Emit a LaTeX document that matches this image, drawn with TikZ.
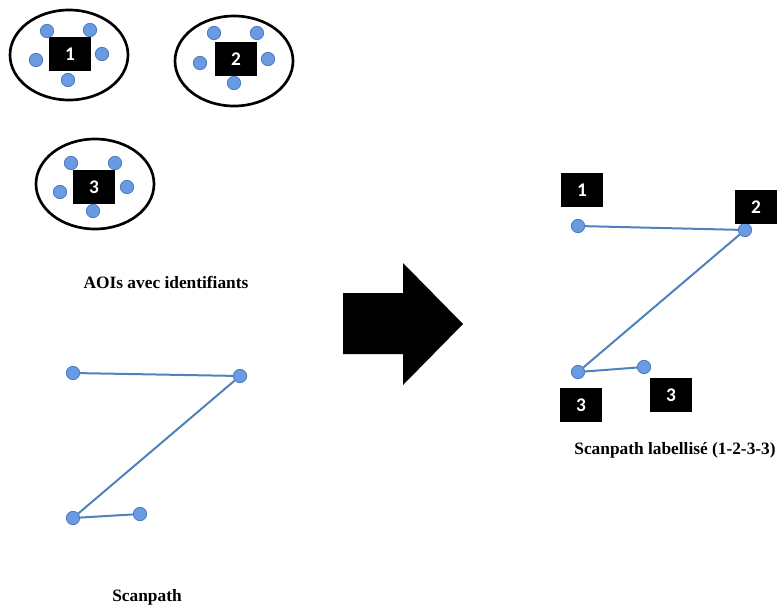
\documentclass[tikz,border=0pt]{standalone}
\usepackage{fontspec}
\setmainfont{Liberation Serif}
\newfontfamily\boxfont{Carlito}
\usetikzlibrary{shapes.geometric, positioning}
\definecolor{dotblue}{HTML}{6A9BE2}
\definecolor{dotedge}{HTML}{4A7BC0}
\definecolor{pathblue}{HTML}{4F81BD}

\begin{document}
\begin{tikzpicture}[x=0.75pt, y=-0.75pt,
    aoi/.style={ellipse, draw, line width=2pt, minimum width=88.5pt, minimum height=67.5pt},
    idbox/.style={rectangle, fill=black, text=white, font=\boxfont\bfseries\fontsize{14.5}{14.5}\selectfont, minimum width=31.5pt, minimum height=25.5pt, inner sep=0pt},
    fix/.style={circle, fill=dotblue, draw=dotedge, line width=0.6pt, minimum size=10pt, inner sep=0pt},
    saccade/.style={draw=pathblue, line width=1.5pt},
    caption/.style={font=\bfseries\fontsize{13}{15}\selectfont}]
    \useasboundingbox (0,0) rectangle (777,610);

    % AOIs
    \node (aoi1) [aoi] at (69,55) {};
    \node (id1) [idbox] at (70,54) {1};
    \node (a1n) [fix] at (47,31) {};
    \node (a1m) [fix] at (90,30) {};
    \node (a1w) [fix] at (36,60) {};
    \node (a1e) [fix] at (102,54) {};
    \node (a1s) [fix] at (68,80) {};

    \node (aoi2) [aoi] at (234,61) {};
    \node (id2) [idbox] at (236,59) {2};
    \node (a2n) [fix] at (214,33) {};
    \node (a2m) [fix] at (257,33) {};
    \node (a2w) [fix] at (200,63) {};
    \node (a2e) [fix] at (268,59) {};
    \node (a2s) [fix] at (234,83) {};

    \node (aoi3) [aoi] at (95,184) {};
    \node (id3) [idbox] at (94,187) {3};
    \node (a3n) [fix] at (71,163) {};
    \node (a3m) [fix] at (115,163) {};
    \node (a3w) [fix] at (60,192) {};
    \node (a3e) [fix] at (127,187) {};
    \node (a3s) [fix] at (93,211) {};

    \node (aoiCap) [caption] at (166,282) {AOIs avec identifiants};

    % Raw scanpath
    \node (s1) [fix] at (73,373) {};
    \node (s2) [fix] at (240,376) {};
    \node (s3) [fix] at (73,518) {};
    \node (s4) [fix] at (140,514) {};
    \draw [saccade] (s1) -- (s2) -- (s3) -- (s4);
    \node (spCap) [caption] at (147,597) {Scanpath};

    % Big arrow
    \fill (343,293) -- (403,293) -- (403,263) -- (463,324) -- (403,385)
        -- (403,354) -- (343,354) -- cycle;

    % Labelled scanpath
    \node (r1) [fix] at (578,226) {};
    \node (r2) [fix] at (745,230) {};
    \node (r3) [fix] at (578,372) {};
    \node (r4) [fix] at (644,367) {};
    \draw [saccade] (r1) -- (r2) -- (r3) -- (r4);
    \node (lab1) [idbox] at (582,190) {1};
    \node (lab2) [idbox] at (756,207) {2};
    \node (lab3) [idbox] at (581,405) {3};
    \node (lab4) [idbox] at (671,395) {3};
    \node (lspCap) [caption] at (675,450) {Scanpath labellisé (1-2-3-3)};
\end{tikzpicture}
\end{document}
